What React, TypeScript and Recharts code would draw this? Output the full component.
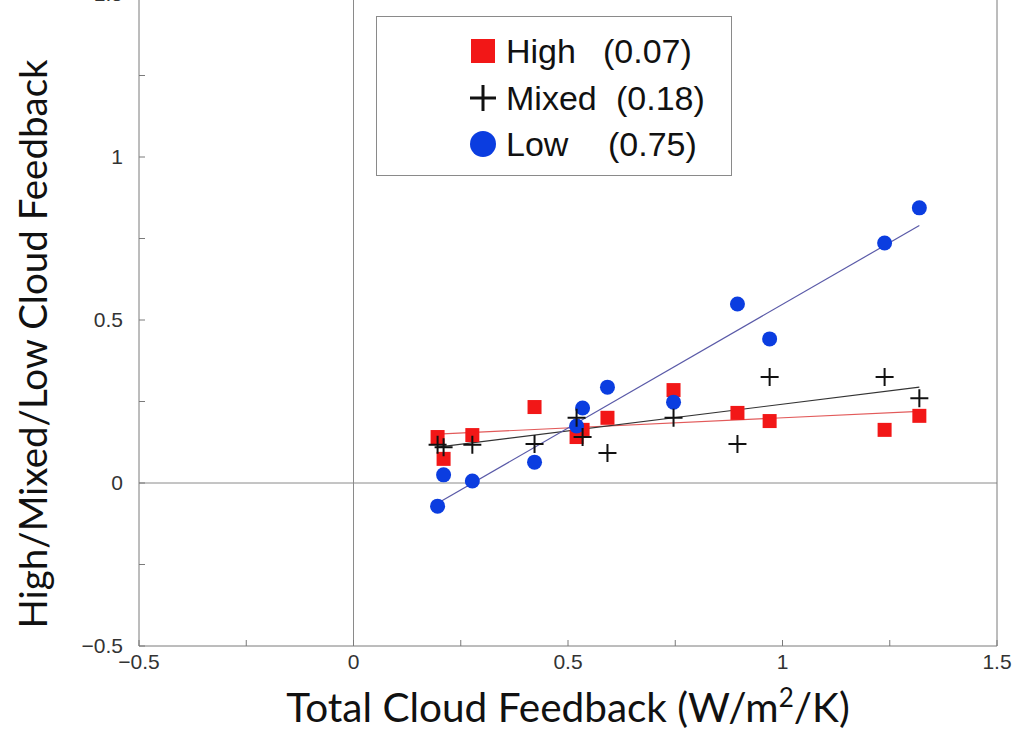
import React from 'react';
import { ScatterChart, Scatter, XAxis, YAxis, ReferenceLine, Legend, Label } from 'recharts';

// one entry per model: total cloud feedback and its high / mixed / low parts
const totalFeedback = [0.196, 0.21, 0.277, 0.422, 0.52, 0.534, 0.592, 0.746, 0.895, 0.97, 1.238, 1.319];
const highFeedback = [0.141, 0.074, 0.147, 0.233, 0.141, 0.163, 0.2, 0.285, 0.215, 0.19, 0.163, 0.206];
const mixedFeedback = [0.117, 0.11, 0.117, 0.12, 0.2, 0.141, 0.092, 0.2, 0.12, 0.325, 0.325, 0.26];
const lowFeedback = [-0.071, 0.025, 0.006, 0.064, 0.175, 0.23, 0.294, 0.248, 0.549, 0.442, 0.736, 0.844];

// regression line end points as drawn
const fitX = [0.196, 1.319];
const highFit = [0.15, 0.22];
const mixedFit = [0.11, 0.294];
const lowFit = [-0.062, 0.79];

const legendNames = ['High', 'Mixed', 'Low'];
const legendSlopes = ['(0.07)', '(0.18)', '(0.75)'];

const axisTicks = [-0.5, -0.25, 0, 0.25, 0.5, 0.75, 1, 1.25, 1.5];

const RED = '#f21717';
const BLUE = '#0b3de0';
const AXIS = '#7a7a7a';
const TICK_FONT = '"Liberation Sans", Arial, sans-serif';
const LABEL_FONT = 'Lato, "Open Sans", sans-serif';

const toPoints = (ys: number[]) => ys.map((y, i) => ({ x: totalFeedback[i], y }));
const toFit = (ys: number[]) => ys.map((y, i) => ({ x: fitX[i], y }));

const fmtTick = (v: number) => {
  if (Math.abs(v * 2 - Math.round(v * 2)) > 1e-6) return '';
  return String(v).replace('-', '\u2212');
};

const Square = ({ cx, cy }: any) => (
  <rect x={cx - 7} y={cy - 7} width={14} height={14} fill={RED} />
);
const Plus = ({ cx, cy }: any) => (
  <path d={`M${cx - 9},${cy}H${cx + 9}M${cx},${cy - 9}V${cy + 9}`} stroke="#111" strokeWidth={2} />
);
const Dot = ({ cx, cy }: any) => <circle cx={cx} cy={cy} r={7.5} fill={BLUE} />;
const NoShape = () => <g />;

function LegendBox() {
  const markers = [
    <rect key="h" x={2} y={2} width={24} height={24} fill={RED} />,
    <path key="m" d="M1,14H27M14,1V27" stroke="#111" strokeWidth={3} />,
    <circle key="l" cx={14} cy={14} r={13} fill={BLUE} />,
  ];
  const slopeLeft = [226, 239, 231];
  return (
    <div
      style={{
        position: 'relative',
        width: 356,
        height: 160,
        border: '1.5px solid #8a8a8a',
        boxSizing: 'border-box',
        background: '#fff',
        fontFamily: TICK_FONT,
        fontSize: 34,
        color: '#111',
      }}
    >
      {legendNames.map((name, i) => {
        const top = 34 + i * 46.5;
        return (
          <React.Fragment key={name}>
            <svg width={28} height={28} style={{ position: 'absolute', left: 92, top: top - 14 }}>
              {markers[i]}
            </svg>
            <span style={{ position: 'absolute', left: 129, top: top - 20, lineHeight: '40px' }}>{name}</span>
            <span style={{ position: 'absolute', left: slopeLeft[i], top: top - 20, lineHeight: '40px' }}>
              {legendSlopes[i]}
            </span>
          </React.Fragment>
        );
      })}
    </div>
  );
}

export default function App() {
  const tickStyle = { fill: '#333', fontSize: 21, fontFamily: TICK_FONT };
  return (
    <div style={{ position: 'absolute', left: 0, top: 0, background: '#fff' }}>
      <ScatterChart width={1022} height={735} margin={{ top: -6, right: 5, bottom: 59, left: 79 }}>
        <XAxis
          type="number"
          dataKey="x"
          domain={[-0.5, 1.5]}
          ticks={axisTicks}
          interval={0}
          tickFormatter={fmtTick}
          tickSize={-6}
          tickMargin={14}
          tick={tickStyle}
          stroke={AXIS}
          height={30}
        >
          <Label
            content={({ viewBox }: any) => (
              <text
                x={viewBox.x + viewBox.width / 2}
                y={viewBox.y + 76}
                textAnchor="middle"
                fontFamily={LABEL_FONT}
                fontSize={40.5}
                fill="#111"
              >
                Total Cloud Feedback (W/m
                <tspan dy={-15} fontSize={26}>2</tspan>
                <tspan dy={15}>/K)</tspan>
              </text>
            )}
          />
        </XAxis>
        <YAxis
          type="number"
          dataKey="y"
          domain={[-0.5, 1.5]}
          ticks={axisTicks}
          interval={0}
          tickFormatter={fmtTick}
          tickSize={-6}
          tickMargin={22}
          tick={tickStyle}
          stroke={AXIS}
          width={60}
        >
          <Label
            content={({ viewBox }: any) => {
              const x = viewBox.x - 32;
              const y = viewBox.y + viewBox.height / 2 + 24;
              return (
                <text
                  x={x}
                  y={y}
                  transform={`rotate(-90 ${x} ${y})`}
                  textAnchor="middle"
                  fontFamily={LABEL_FONT}
                  fontSize={38.5}
                  fill="#111"
                >
                  High/Mixed/Low Cloud Feedback
                </text>
              );
            }}
          />
        </YAxis>
        <YAxis
          yAxisId="right"
          orientation="right"
          type="number"
          dataKey="y"
          domain={[-0.5, 1.5]}
          ticks={axisTicks}
          interval={0}
          tickFormatter={() => ''}
          tickSize={-6}
          stroke={AXIS}
          width={20}
        />
        <ReferenceLine x={0} stroke="#8a8a8a" strokeWidth={1} />
        <ReferenceLine y={0} stroke="#8a8a8a" strokeWidth={1} />
        <Legend
          layout="horizontal"
          verticalAlign="middle"
          align="center"
          content={() => <LegendBox />}
          wrapperStyle={{ position: 'absolute', left: 376, top: 16, width: 356, height: 160 }}
        />
        <Scatter data={toFit(highFit)} line={{ stroke: '#e25a5a', strokeWidth: 1.2 }} shape={NoShape} isAnimationActive={false} />
        <Scatter data={toFit(mixedFit)} line={{ stroke: '#333', strokeWidth: 1.2 }} shape={NoShape} isAnimationActive={false} />
        <Scatter data={toFit(lowFit)} line={{ stroke: '#5a5aa8', strokeWidth: 1.2 }} shape={NoShape} isAnimationActive={false} />
        <Scatter data={toPoints(highFeedback)} shape={Square} isAnimationActive={false} />
        <Scatter data={toPoints(lowFeedback)} shape={Dot} isAnimationActive={false} />
        <Scatter data={toPoints(mixedFeedback)} shape={Plus} isAnimationActive={false} />
      </ScatterChart>
    </div>
  );
}
